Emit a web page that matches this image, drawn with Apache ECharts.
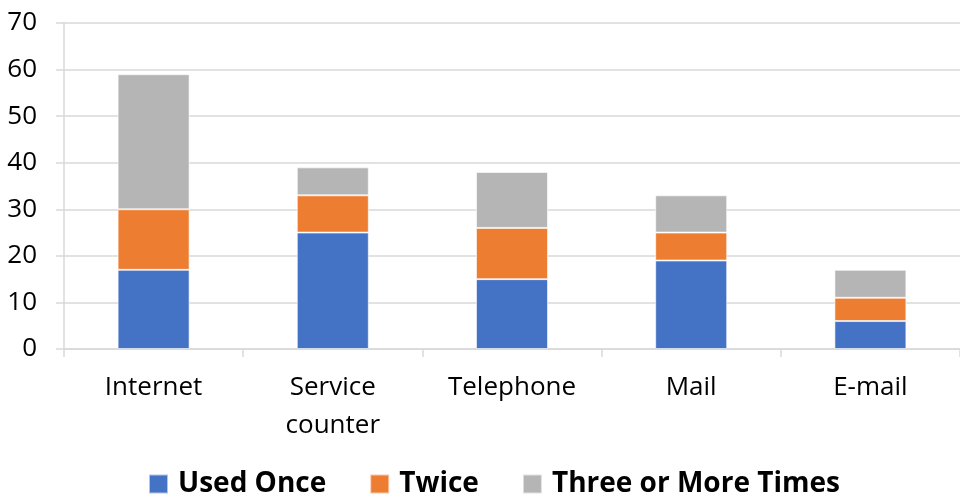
<!DOCTYPE html>
<html>
<head>
<meta charset="utf-8">
<script src="https://cdn.jsdelivr.net/npm/echarts@6/dist/echarts.min.js"></script>
<style>html,body{margin:0;padding:0;background:#fff}#c{width:960px;height:495px}</style>
</head>
<body>
<div id="c"></div>
<script>
const categories = ['Internet', 'Service\ncounter', 'Telephone', 'Mail', 'E-mail'];
const usedOnce = [17, 25, 15, 19, 6];
const twice = [13, 8, 11, 6, 5];
const threeOrMore = [29, 6, 12, 8, 6];
const seriesNames = ['Used Once', 'Twice', 'Three or More Times'];
const yTicks = { min: 0, max: 70, interval: 10 };

const chart = echarts.init(document.getElementById('c'), null, { renderer: 'canvas' });
const font = 'Open Sans';
function bar(name, data, color) {
  return {
    name, type: 'bar', stack: 'total', data, barWidth: 72,
    itemStyle: { color, borderColor: 'rgba(255,255,255,0.6)', borderWidth: 1 },
    emphasis: { disabled: true }
  };
}
chart.setOption({
  animation: false,
  grid: { left: 64, top: 23, width: 902, height: 326, containLabel: false },
  legend: {
    top: 464, left: 143, itemWidth: 19, itemHeight: 19, itemGap: 43,
    icon: 'rect',
    textStyle: { fontFamily: font, fontSize: 28, fontWeight: 'bold', color: '#000', lineHeight: 30, padding: [0, 0, 0, 5] },
    data: seriesNames
  },
  xAxis: {
    type: 'category', data: categories,
    axisLine: { lineStyle: { color: '#d9d9d9', width: 1.5 } },
    axisTick: { show: true, length: 8, alignWithLabel: false, lineStyle: { color: '#d9d9d9', width: 1.5 } },
    axisLabel: { fontFamily: font, fontSize: 26, color: '#000', margin: 20, lineHeight: 38, interval: 0 }
  },
  yAxis: {
    type: 'value', min: yTicks.min, max: yTicks.max, interval: yTicks.interval,
    axisLine: { show: true, lineStyle: { color: '#d9d9d9', width: 1.5 } },
    axisTick: { show: true, length: 8, lineStyle: { color: '#d9d9d9', width: 1.5 } },
    splitLine: { lineStyle: { color: '#d9d9d9', width: 1.5 } },
    axisLabel: { fontFamily: font, fontSize: 26, color: '#000', margin: 27 }
  },
  series: [
    bar(seriesNames[0], usedOnce, '#4472C4'),
    bar(seriesNames[1], twice, '#ED7D31'),
    bar(seriesNames[2], threeOrMore, '#B5B5B5')
  ]
});
</script>
</body>
</html>
